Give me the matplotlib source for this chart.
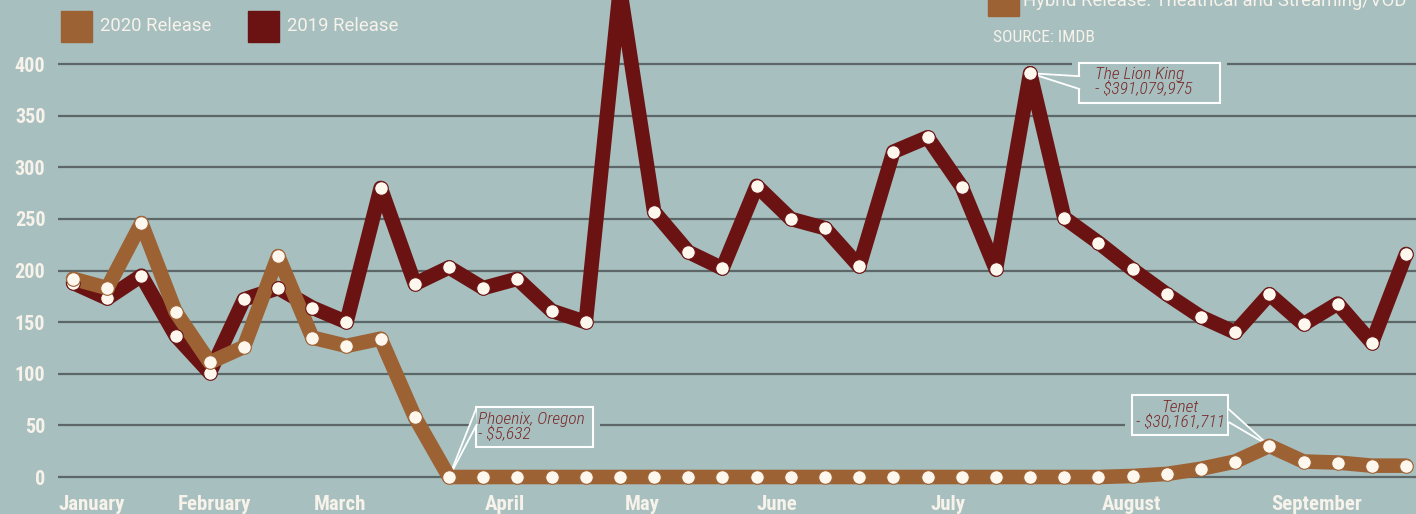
import matplotlib
matplotlib.use("Agg")
import matplotlib.pyplot as plt
from matplotlib.patches import Rectangle, Polygon
import matplotlib.transforms as mtransforms
import numpy as np

# ---------------- data (box office per week, millions USD) ----------------
release_2019 = [188, 173, 195, 137, 101, 172, 183, 164, 150, 280,
                187, 203, 183, 192, 161, 150, 473, 257, 218, 202,
                282, 250, 241, 204, 315, 329, 281, 201, 391.08, 251,
                227, 201, 177, 155, 140, 177, 148, 168, 130, 216]
release_2020 = [192, 183, 246, 160, 111, 126, 214, 135, 127, 134,
                58, 0.0056, 0, 0, 0, 0, 0, 0, 0, 0,
                0, 0, 0, 0, 0, 0, 0, 0, 0, 0,
                0, 1, 3, 8, 15, 30.16, 15, 14, 11, 11]
weeks = list(range(len(release_2019)))
month_labels = ["January", "February", "March", "April", "May",
                "June", "July", "August", "September"]
month_pos = [0.55, 4.15, 7.8, 12.64, 16.65, 20.6, 25.6, 30.98, 36.37]
y_ticks = [0, 50, 100, 150, 200, 250, 300, 350, 400]
legend_labels = ["2020 Release", "2019 Release"]
hybrid_label = "Hybrid Release: Theatrical and Streaming/VOD"
source_label = "SOURCE: IMDB"
annotations = [  # (week index, series, text)
    (28, "2019", "The Lion King\n- $391,079,975"),
    (11, "2020", "Phoenix, Oregon\n- $5,632"),
    (35, "2020", "Tenet\n- $30,161,711"),
]

# ---------------- style ----------------
BG = "#a7bfbf"
C2020 = "#9d6234"
C2019 = "#6b1313"
MK = "#fdf7ee"
GRID = "#5d6767"
TXT = "#f7f2ea"
ANN = "#7a2a2a"
NARROW = ["Roboto Condensed", "Liberation Sans Narrow", "Roboto"]

W, H = 1416, 514
fig = plt.figure(figsize=(W / 100, H / 100), dpi=100, facecolor=BG)
ax = fig.add_axes([58 / W, (H - 488) / H, (W - 58) / W, 488 / H])
ax.set_facecolor(BG)
ax.set_xlim(-0.44, 39.29)
ax.set_ylim(-10.65, 462.0)
for s in ax.spines.values():
    s.set_visible(False)

for yv in y_ticks:
    ax.axhline(yv, color=GRID, lw=1.6, zorder=1)

ax.set_yticks(y_ticks)
ax.set_yticklabels([str(v) for v in y_ticks])
ax.set_xticks(month_pos)
ax.set_xticklabels(month_labels)
ax.tick_params(length=0)
ax.tick_params(axis="y", pad=9, labelsize=14.5, labelcolor=TXT)
ax.tick_params(axis="x", pad=5, labelsize=15, labelcolor=TXT)
for lab in ax.get_yticklabels() + ax.get_xticklabels():
    lab.set_fontfamily(NARROW)
    lab.set_fontweight("bold")

lw = 10.5
ax.plot(weeks, release_2019, color=C2019, lw=lw, solid_joinstyle="round",
        solid_capstyle="round", zorder=3)
ax.plot(weeks, release_2020, color=C2020, lw=lw, solid_joinstyle="round",
        solid_capstyle="round", zorder=3.2)
ax.plot(weeks, release_2019, ls="none", marker="o", ms=9.8, mfc=MK,
        mec=C2019, mew=0.8, zorder=4)
ax.plot(weeks, release_2020, ls="none", marker="o", ms=9.8, mfc=MK,
        mec=C2020, mew=0.8, zorder=4.2)

# ---------------- annotations (layout in pixels relative to the point, y up) ----
series = {"2019": release_2019, "2020": release_2020}
ann_layout = {
    28: dict(box=(49, -30, 141, 40), text=(65, -9), ha="left",
             wedge=((50, -3), (50, -16))),
    11: dict(box=(27, 30, 117, 40), text=(29, 50), ha="left",
             wedge=((27, 68), (28, 53))),
    35: dict(box=(-137, 11, 96, 40), text=(-89, 31), ha="center",
             wedge=((-41, 37), (-41, 24))),
}
fig.canvas.draw()
halo = 7
for idx, key, text in annotations:
    lay = ann_layout[idx]
    px, py = ax.transData.transform((idx, series[key][idx]))
    tr = mtransforms.Affine2D().translate(px, py)
    bx, by, bw, bh = lay["box"]
    ax.add_patch(Rectangle((bx - halo, by - halo), bw + 2 * halo, bh + 2 * halo,
                           transform=tr, fc=BG, ec="none", zorder=2))
    ax.add_patch(Rectangle((bx, by), bw, bh, transform=tr, fc=BG, ec="white",
                           lw=1.5, zorder=2.5))
    (w1, w2) = lay["wedge"]
    ax.add_patch(Polygon([(0, 0), w1, w2], closed=True, transform=tr, fc=BG,
                         ec="none", zorder=2.6))
    for wx, wy in (w1, w2):
        ax.plot([0, wx], [0, wy], color="white", lw=1.3, transform=tr,
                zorder=2.7, solid_capstyle="butt")
    ax.text(lay["text"][0], lay["text"][1], text, transform=tr, ha=lay["ha"],
            va="center", fontsize=12.5, family=NARROW, style="italic",
            weight="light", color=ANN, linespacing=0.95, zorder=2.8)

# ---------------- legend / header ----------------
def fig_rect(x0, y0, x1, y1, color):
    fig.patches.append(Rectangle((x0 / W, 1 - y1 / H), (x1 - x0) / W, (y1 - y0) / H,
                                 transform=fig.transFigure, color=color, zorder=5))

fig_rect(61, 11, 92, 42, C2020)
fig.text(100 / W, 1 - 26 / H, legend_labels[0], color=TXT, fontsize=13.3,
         family="Roboto", va="center", ha="left")
fig_rect(248, 11, 279, 42, C2019)
fig.text(287 / W, 1 - 26 / H, legend_labels[1], color=TXT, fontsize=13.3,
         family="Roboto", va="center", ha="left")
fig_rect(988, -15, 1019, 16, C2020)
fig.text(1023 / W, 1 - 1 / H, hybrid_label, color=TXT, fontsize=13.3,
         family="Roboto", va="center", ha="left")
fig.text(993 / W, 1 - 38 / H, source_label, color=TXT, fontsize=12.5,
         family=NARROW, va="center", ha="left")

fig.savefig("out.png", dpi=100, facecolor=BG)
